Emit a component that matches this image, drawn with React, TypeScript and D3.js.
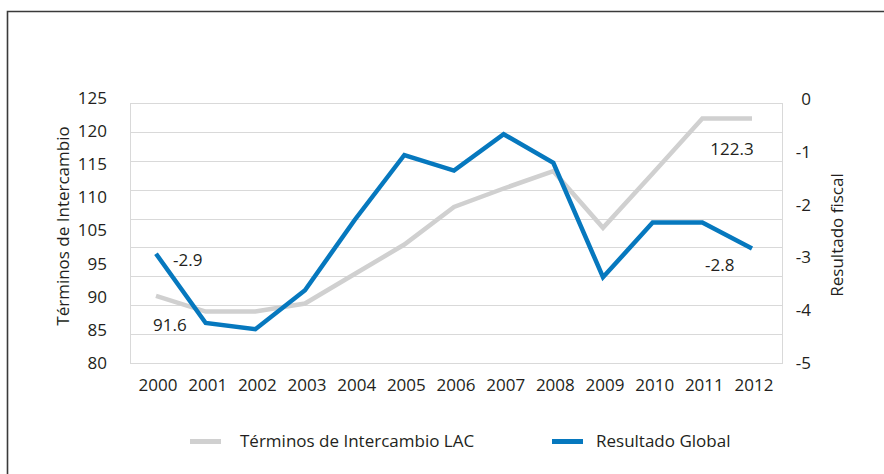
import React, { useEffect, useRef } from "react";
import * as d3 from "d3";

// datos
const years = ["2000", "2001", "2002", "2003", "2004", "2005", "2006", "2007", "2008", "2009", "2010", "2011", "2012"];
const terminos = [91.6, 88.9, 88.9, 90.3, 95.4, 100.5, 107.0, 110.2, 113.2, 103.4, 112.8, 122.3, 122.3];
const resultado = [-2.9, -4.23, -4.35, -3.6, -2.25, -1.0, -1.3, -0.6, -1.15, -3.35, -2.3, -2.3, -2.8];
const leftTickLabels = ["125", "120", "115", "110", "105", "95", "90", "85", "80"];
const rightTicks = [0, -1, -2, -3, -4, -5];
const seriesNames = ["Términos de Intercambio LAC", "Resultado Global"];
const pointLabels = [
    { serie: 0, i: 0, text: "91.6" },
    { serie: 0, i: 11, text: "122.3" },
    { serie: 1, i: 0, text: "-2.9" },
    { serie: 1, i: 12, text: "-2.8" },
];

const width = 884, height = 474;
const margin = { top: 103, right: 102, bottom: 111, left: 130 };
const GRAY = "#d0d0d0", BLUE = "#0678be", TEXT = "#231f20";
const FONT = "'Open Sans', sans-serif";

export default function App() {
    const ref = useRef<SVGSVGElement>(null);

    useEffect(() => {
        const svg = d3.select(ref.current);
        svg.selectAll("*").remove();

        const x0 = margin.left, x1 = width - margin.right;
        const y0 = height - margin.bottom, y1 = margin.top;

        const x = d3.scalePoint().domain(years).range([156, 752]);
        const yLeft = d3.scaleLinear().domain([80, 125]).range([y0, y1]);
        const yRight = d3.scaleLinear().domain([0, -5]).range([y1, y0]);
        // las etiquetas del eje izquierdo estan repartidas de forma pareja (falta el 100)
        const yLeftLabel = d3.scalePoint().domain(leftTickLabels).range([98, y0]);

        // marco exterior
        svg.append("path")
            .attr("d", `M7.5,${height} V11.5 H${width}`)
            .attr("fill", "none")
            .attr("stroke", "#3a3a3a")
            .attr("stroke-width", 1.6);

        // grilla
        svg.append("g")
            .selectAll("line")
            .data(yLeft.ticks(9))
            .enter().append("line")
            .attr("x1", x0).attr("x2", x1)
            .attr("y1", d => Math.round(yLeft(d)) + 0.5)
            .attr("y2", d => Math.round(yLeft(d)) + 0.5)
            .attr("stroke", "#d9d9d9");

        svg.append("rect")
            .attr("x", x0 + 0.5).attr("y", y1 + 0.5)
            .attr("width", x1 - x0).attr("height", y0 - y1)
            .attr("fill", "none")
            .attr("stroke", "#d9d9d9");

        const text = (g: any) => g
            .attr("font-family", FONT)
            .attr("font-size", 17)
            .attr("fill", TEXT);

        // eje izquierdo
        svg.append("g").call(text)
            .selectAll("text")
            .data(leftTickLabels)
            .enter().append("text")
            .attr("x", 107)
            .attr("y", d => yLeftLabel(d) as number)
            .attr("dy", "0.35em")
            .attr("text-anchor", "end")
            .text(d => d);

        // eje derecho
        svg.append("g").call(text)
            .selectAll("text")
            .data(rightTicks)
            .enter().append("text")
            .attr("x", 811)
            .attr("y", (d, i) => yRight(d) - 4 + i * 0.8)
            .attr("dy", "0.35em")
            .attr("text-anchor", "end")
            .text(d => String(d));

        // eje x
        svg.append("g").call(text)
            .selectAll("text")
            .data(years)
            .enter().append("text")
            .attr("x", d => (x(d) as number) + 2)
            .attr("y", 385)
            .attr("dy", "0.35em")
            .attr("text-anchor", "middle")
            .text(d => d);

        // titulos de ejes
        svg.append("text").call(text)
            .attr("transform", "translate(63,226) rotate(-90)")
            .attr("dy", "0.35em")
            .attr("text-anchor", "middle")
            .text("Términos de Intercambio");

        svg.append("text").call(text)
            .attr("transform", "translate(837,235) rotate(-90)")
            .attr("dy", "0.35em")
            .attr("text-anchor", "middle")
            .text("Resultado fiscal");

        // lineas
        const lineLeft = d3.line<number>()
            .x((d, i) => x(years[i]) as number)
            .y(d => yLeft(d));
        const lineRight = d3.line<number>()
            .x((d, i) => x(years[i]) as number)
            .y(d => yRight(d));

        svg.append("path")
            .datum(terminos)
            .attr("d", lineLeft)
            .attr("fill", "none")
            .attr("stroke", GRAY)
            .attr("stroke-width", 4.5);

        svg.append("path")
            .datum(resultado)
            .attr("d", lineRight)
            .attr("fill", "none")
            .attr("stroke", BLUE)
            .attr("stroke-width", 4.5);

        // etiquetas de valores
        const offsets = [[-3, 29], [8, 30], [17, 6], [-47, 16]];
        svg.append("g").call(text)
            .selectAll("text")
            .data(pointLabels)
            .enter().append("text")
            .attr("x", (d, i) => (x(years[d.i]) as number) + offsets[i][0])
            .attr("y", (d, i) => (d.serie === 0 ? yLeft(terminos[d.i]) : yRight(resultado[d.i])) + offsets[i][1])
            .attr("dy", "0.35em")
            .text(d => d.text);

        // leyenda
        const legend = svg.append("g");
        const legX = [190, 552];
        [GRAY, BLUE].forEach((c, i) => {
            legend.append("rect")
                .attr("x", legX[i]).attr("y", 439)
                .attr("width", 31).attr("height", 5)
                .attr("fill", c);
            legend.append("text").call(text)
                .attr("x", legX[i] + (i === 0 ? 50 : 44))
                .attr("y", 441)
                .attr("dy", "0.35em")
                .text(seriesNames[i]);
        });
    }, []);

    return (
        <svg
            ref={ref}
            width={width}
            height={height}
            style={{ position: "absolute", left: 0, top: 0, display: "block", background: "#fff" }}
        />
    );
}
